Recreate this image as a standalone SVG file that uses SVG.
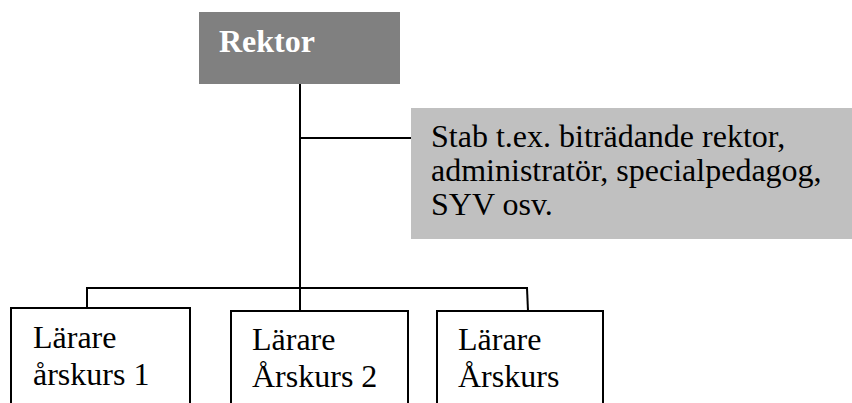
<svg xmlns="http://www.w3.org/2000/svg" width="852" height="403" viewBox="0 0 852 403">
<style>
.t{font-family:"Liberation Serif","Times New Roman",serif;font-size:32px;fill:#000}
.b{fill:#fff;stroke:#000;stroke-width:2}
.c{stroke:#000;stroke-width:2;fill:none}
</style>
<rect width="852" height="403" fill="#fff"/>
<g id="connectors">
<line class="c" x1="300" y1="84" x2="300" y2="311"/>
<line class="c" x1="300" y1="138" x2="411" y2="138"/>
<line class="c" x1="86" y1="288" x2="528" y2="288"/>
<line class="c" x1="87" y1="287" x2="87" y2="308"/>
<line class="c" x1="527" y1="288" x2="528" y2="311"/>
</g>
<g id="rektor">
<rect x="199" y="12" width="201" height="72" fill="#808080"/>
<text x="219" y="52" class="t" style="fill:#fff;font-weight:bold">Rektor</text>
</g>
<g id="stab">
<rect x="411" y="108" width="441" height="131" fill="#c0c0c0"/>
<text class="t"><tspan x="431" y="147">Stab t.ex. biträdande rektor,</tspan><tspan x="431" y="181">administratör, specialpedagog,</tspan><tspan x="431" y="215">SYV osv.</tspan></text>
</g>
<g id="larare1">
<rect class="b" x="11" y="308" width="179" height="110"/>
<text class="t"><tspan x="33" y="348">Lärare</tspan><tspan x="33" y="385">årskurs 1</tspan></text>
</g>
<g id="larare2">
<rect class="b" x="231" y="311" width="177" height="110"/>
<text class="t"><tspan x="252" y="350">Lärare</tspan><tspan x="252" y="387">Årskurs 2</tspan></text>
</g>
<g id="larare3">
<rect class="b" x="437" y="311" width="166" height="110"/>
<text class="t"><tspan x="458" y="350">Lärare</tspan><tspan x="458" y="387">Årskurs</tspan></text>
</g>
</svg>
